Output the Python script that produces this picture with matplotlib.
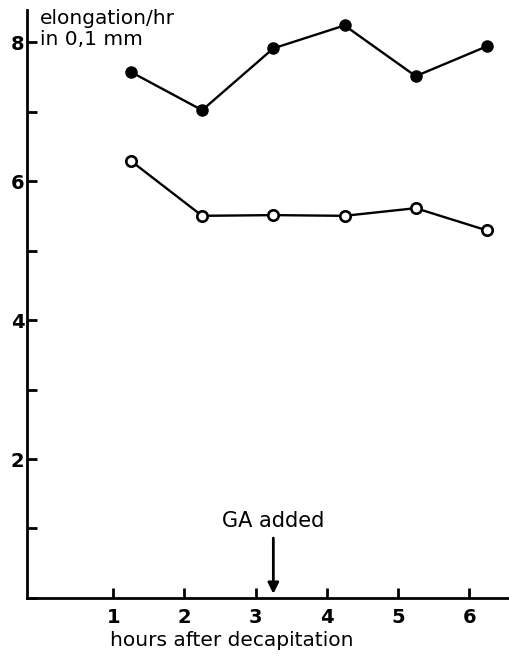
import matplotlib
matplotlib.use("Agg")
import matplotlib.pyplot as plt
from matplotlib.ticker import MultipleLocator

plt.rcParams["font.family"] = ["DejaVu Sans"]

# hours after decapitation, elongation per hour (0.1 mm)
hours = [1.25, 2.25, 3.25, 4.25, 5.25, 6.25]
with_ga = [7.57, 7.02, 7.91, 8.24, 7.51, 7.94]
control = [6.29, 5.50, 5.51, 5.50, 5.61, 5.29]
ga_time = 3.25

fig = plt.figure(figsize=(5.09, 6.59), dpi=100)
ax = fig.add_axes([0.053, 0.0926, 0.947, 0.892])

ax.plot(hours, with_ga, "-o", color="black", lw=1.7, ms=8,
        mfc="black", mec="black")
ax.plot(hours, control, "-o", color="black", lw=1.7, ms=7.5,
        mfc="white", mec="black", mew=1.9)

ax.set_xlim(-0.21, 6.56)
ax.set_ylim(0, 8.46)
ax.spines["top"].set_visible(False)
ax.spines["right"].set_visible(False)
for s in ("left", "bottom"):
    ax.spines[s].set_linewidth(2)

ax.set_xticks([1, 2, 3, 4, 5, 6])
ax.yaxis.set_major_locator(MultipleLocator(2))
ax.yaxis.set_minor_locator(MultipleLocator(1))
ax.set_yticks([2, 4, 6, 8])
ax.tick_params(axis="both", which="both", direction="in", length=7, width=2,
               labelsize=14)
ax.tick_params(axis="y", pad=2)
ax.tick_params(axis="x", pad=7)
for lbl in ax.get_xticklabels() + ax.get_yticklabels():
    lbl.set_fontweight("bold")

ax.set_xlabel("hours after decapitation", fontsize=14.5)
ax.xaxis.set_label_coords(0.424, -0.057)

ax.text(-0.03, 8.47, "elongation/hr\nin 0,1 mm", fontsize=14.5, va="top",
        ha="left", linespacing=1.1)

ax.annotate("GA added", xy=(ga_time, 0.06), xytext=(ga_time, 1.02),
            ha="center", va="baseline", fontsize=15,
            arrowprops=dict(arrowstyle="-|>", color="black", lw=2,
                            mutation_scale=16, shrinkA=3, shrinkB=0))

fig.savefig("out.png", dpi=100)
